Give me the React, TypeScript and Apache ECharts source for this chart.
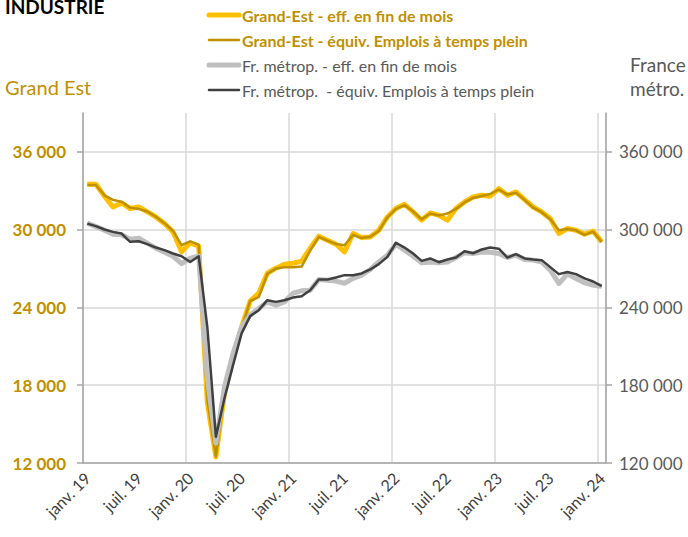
import React, { useEffect, useRef } from "react";
import * as echarts from "echarts";

const monthNames = ["janv.", "févr.", "mars", "avr.", "mai", "juin", "juil.", "août", "sept.", "oct.", "nov.", "déc."];
const years = ["19", "20", "21", "22", "23", "24"];

const geEff = [33500, 33500, 32580, 31750, 32060, 31630, 31750, 31370, 30980, 30470, 29830, 28290, 28980, 28720, 16700, 12460, 17400, 20090, 22480, 24490, 25100, 26640, 27030, 27340, 27410, 27570, 28570, 29500, 29190, 28880, 28290, 29700, 29400, 29440, 29960, 30980, 31630, 31960, 31370, 30730, 31290, 31110, 30730, 31630, 32140, 32520, 32650, 32580, 33160, 32650, 32910, 32320, 31750, 31370, 30860, 29700, 30090, 29960, 29650, 29880, 29060];
const geEtp = [33450, 33450, 32650, 32300, 32150, 31700, 31600, 31400, 31000, 30500, 29900, 28800, 29100, 28850, 16900, 12500, 17300, 20000, 22400, 24500, 24800, 26600, 27000, 27100, 27100, 27150, 28400, 29450, 29150, 28900, 28800, 29600, 29350, 29450, 29900, 30950, 31600, 31900, 31400, 30800, 31250, 31100, 31240, 31600, 32100, 32450, 32600, 32750, 33100, 32700, 32850, 32300, 31700, 31350, 30800, 29960, 30050, 29950, 29600, 29850, 29050];
const frEff = [305000, 302300, 299600, 296500, 296100, 292600, 293400, 289600, 285700, 282600, 279500, 273800, 278000, 279500, 185500, 135400, 178800, 204500, 225000, 234100, 239200, 244300, 241800, 244300, 251000, 252800, 253300, 261600, 261000, 260300, 258700, 262400, 264900, 269300, 275100, 280300, 288800, 284200, 279500, 274400, 275100, 274400, 275100, 278500, 282100, 281600, 282800, 282600, 281600, 278500, 280300, 277000, 276500, 275100, 268700, 258500, 265700, 262400, 259000, 257200, 256400];
const frEtp = [304700, 302700, 300100, 298300, 297000, 290600, 291100, 288800, 286200, 284200, 281600, 279500, 275100, 279500, 224800, 140300, 169900, 195500, 220000, 233300, 237900, 245600, 244300, 245600, 247600, 248700, 253300, 261600, 261600, 263100, 264900, 264900, 266200, 269300, 273400, 279000, 289900, 286200, 281600, 275900, 277800, 274900, 277000, 278500, 283400, 281800, 284700, 286200, 285300, 278500, 281100, 277800, 277000, 276500, 271100, 265700, 267400, 265700, 262400, 260000, 256400];

const leftTicks = [12000, 18000, 24000, 30000, 36000];
const rightTicks = [120000, 180000, 240000, 300000, 360000];

const seriesNames = [
  "Grand-Est - eff. en fin de mois",
  "Grand-Est - équiv. Emplois à temps plein",
  "Fr. métrop. - eff. en fin de mois",
  "Fr. métrop.  - équiv. Emplois à temps plein",
];

const categories: string[] = [];
years.forEach((y) => monthNames.forEach((m) => categories.push(m + " " + y)));
categories.length = geEff.length;

const FONT = "Lato";
const GOLD = "#BF9000";
const YELLOW = "#FFC000";
const LGRAY = "#BFBFBF";
const DGRAY = "#404040";
const TXT = "#595959";

const fmt = (v: number) => String(v).replace(/\B(?=(\d{3})+(?!\d))/g, " ");

export default function App() {
  const ref = useRef<HTMLDivElement>(null);
  useEffect(() => {
    if (!ref.current) return;
    const chart = echarts.init(ref.current, null, { renderer: "svg" });
    const legendColors = [YELLOW, GOLD, LGRAY, DGRAY];
    const legendWidths = [5, 2.5, 5, 2.5];
    const legendText = [GOLD, GOLD, TXT, TXT];
    const legendWeight = ["bold", "bold", "normal", "normal"];
    const legendGraphics: any[] = [];
    seriesNames.forEach((n, i) => {
      const cy = 15 + i * 25;
      legendGraphics.push({
        type: "line",
        shape: { x1: 209, y1: cy, x2: 239, y2: cy },
        style: { stroke: legendColors[i], lineWidth: legendWidths[i], lineCap: "round" },
      });
      legendGraphics.push({
        type: "text",
        x: 242,
        y: cy,
        style: {
          text: n,
          fill: legendText[i],
          font: `${legendWeight[i]} 16px ${FONT}`,
          textVerticalAlign: "middle",
          verticalAlign: "middle",
        },
      });
    });

    chart.setOption({
      animation: false,
      backgroundColor: "#ffffff",
      textStyle: { fontFamily: FONT },
      grid: { left: 83, top: 113, right: 82, bottom: 74, containLabel: false, outerBoundsMode: "none" },
      graphic: [
        {
          type: "text",
          left: 5,
          top: -3,
          style: { text: "INDUSTRIE", fill: "#000", font: `bold 19px ${FONT}` },
        },
        {
          type: "text",
          x: 5,
          y: 87,
          style: { text: "Grand Est", fill: GOLD, font: `20px ${FONT}`, verticalAlign: "middle", textVerticalAlign: "middle" },
        },
        {
          type: "text",
          x: 630,
          y: 64,
          style: { text: "France", fill: TXT, font: `19px ${FONT}`, verticalAlign: "middle", textVerticalAlign: "middle" },
        },
        {
          type: "text",
          x: 630,
          y: 88,
          style: { text: "métro.", fill: TXT, font: `19px ${FONT}`, verticalAlign: "middle", textVerticalAlign: "middle" },
        },
        ...legendGraphics,
      ],
      xAxis: {
        type: "category",
        data: categories,
        boundaryGap: true,
        axisLine: { lineStyle: { color: "#A6A6A6", width: 1.5 } },
        axisTick: { interval: 11, length: 6, lineStyle: { color: "#A6A6A6", width: 1.5 } },
        splitLine: { show: true, interval: 11, lineStyle: { color: "#D9D9D9", width: 1.5 } },
        axisLabel: { interval: 5, rotate: 45, color: "#404040", fontSize: 16, fontFamily: FONT, margin: 12 },
      },
      yAxis: [
        {
          type: "value",
          min: 12000,
          max: 39000,
          interval: 6000,
          position: "left",
          axisLine: { show: true, lineStyle: { color: "#A6A6A6", width: 1.5 } },
          axisTick: { show: true, length: 6, customValues: leftTicks, lineStyle: { color: "#A6A6A6", width: 1.5 } },
          splitLine: {
            show: true,
            lineStyle: { color: ["#D9D9D9", "#D9D9D9", "#D9D9D9", "#D9D9D9", "#D9D9D9", "rgba(0,0,0,0)"], width: 1.5 },
          },
          axisLabel: {
            customValues: leftTicks,
            color: GOLD,
            fontSize: 17,
            fontWeight: "bold",
            fontFamily: FONT,
            margin: 17,
            formatter: (v: number) => (v > 36000 ? "" : fmt(v)),
          },
        },
        {
          type: "value",
          min: 120000,
          max: 390000,
          interval: 60000,
          position: "right",
          axisLine: { show: true, lineStyle: { color: "#A6A6A6", width: 1.5 } },
          axisTick: { show: true, length: 6, customValues: rightTicks, lineStyle: { color: "#A6A6A6", width: 1.5 } },
          splitLine: { show: false },
          axisLabel: {
            customValues: rightTicks,
            color: TXT,
            fontSize: 17,
            fontFamily: FONT,
            margin: 13,
            formatter: (v: number) => (v > 360000 ? "" : fmt(v)),
          },
        },
      ],
      series: [
        {
          name: seriesNames[0],
          type: "line",
          yAxisIndex: 0,
          data: geEff,
          showSymbol: false,
          lineStyle: { color: YELLOW, width: 5, join: "round" },
          itemStyle: { color: YELLOW },
        },
        {
          name: seriesNames[1],
          type: "line",
          yAxisIndex: 0,
          data: geEtp,
          showSymbol: false,
          lineStyle: { color: GOLD, width: 2.5, join: "round" },
          itemStyle: { color: GOLD },
        },
        {
          name: seriesNames[2],
          type: "line",
          yAxisIndex: 1,
          data: frEff,
          showSymbol: false,
          lineStyle: { color: LGRAY, width: 5, join: "round" },
          itemStyle: { color: LGRAY },
        },
        {
          name: seriesNames[3],
          type: "line",
          yAxisIndex: 1,
          data: frEtp,
          showSymbol: false,
          lineStyle: { color: DGRAY, width: 2.5, join: "round" },
          itemStyle: { color: DGRAY },
        },
      ],
    });
    return () => chart.dispose();
  }, []);
  return <div ref={ref} style={{ position: "fixed", left: 0, top: 0, width: 688, height: 537 }} />;
}
